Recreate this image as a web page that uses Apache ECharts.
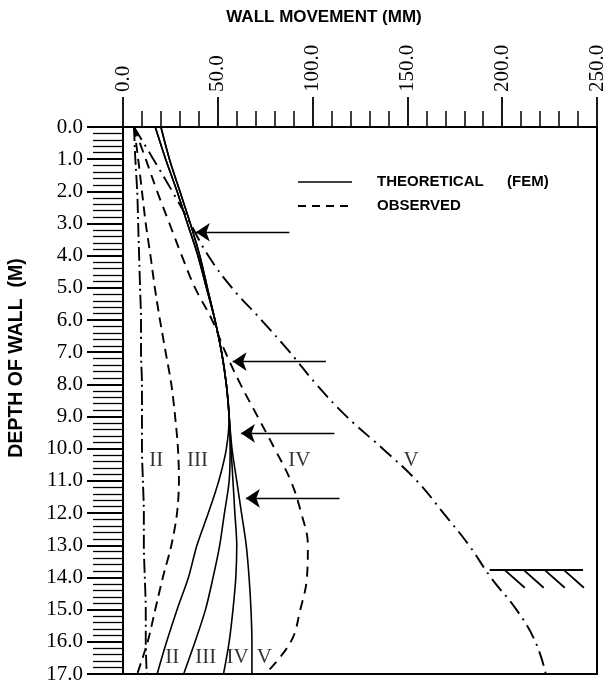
<!DOCTYPE html>
<html><head><meta charset="utf-8">
<script src="https://cdn.jsdelivr.net/npm/echarts/dist/echarts.min.js"></script>
<style>html,body{margin:0;padding:0;background:#fff}#c{width:609px;height:684px}</style>
</head><body><div id="c"></div>
<script>
// Depth of wall (m) at which each curve is sampled
const depths = [0,1,2,3,4,5,6,7,8,9,10,11,12,13,14,15,16,17];
// Theoretical (FEM) wall movement (mm)
const theoII  = [17,22.5,28.5,34,39.5,44,48.5,52,54.5,56,54.5,50.5,45,39,34.5,28.5,23,18];
const theoIII = [17,22.5,28.5,34,39.5,44,48.5,52,54.5,56,56.5,56,53.5,51,47.5,43.5,38,32];
const theoIV  = [20,24.5,30,35.5,40.5,44.5,48.5,52,54.5,56,57,58,59,60,59.5,58,56,53];
const theoV   = [20,24.5,30,35.5,40.5,44.5,48.5,52,54.5,56,57.5,60,62.5,65,66.5,67.5,68,68];
// Observed wall movement (mm)
const obsII  = [5.8,6.5,7.5,8,8.5,9,9.5,9.5,10,10,10,10.5,11,11,11.5,12,12,12.5];
const obsIII = [5.8,8,10,12,14.5,16.8,19.5,22.5,25.5,27.5,29,29.5,28.5,25.5,21,17,13,7.5];
const obsIV  = [5.8,12,18,24.5,31,38,47,54,62,71,80,88.5,94,97.5,97,93.5,88.5,75];
const obsV   = [5.8,16,26,35.5,45,57.5,73,88,102,118,137,155,169,182.5,194,207.5,217.5,223];
// Arrows (depth, tail mm, tip mm)
const arrowDepths = [3.27,7.29,9.52,11.54];
const arrowTails  = [87.7,107,111.5,114.2];
const arrowTips   = [38.4,57.8,62.2,64.8];
// Ground level marker
const groundDepth = 13.77;
const groundFrom = 193.4, groundTo = 242.6;
const hatchStarts = [201.4,211.4,222.5,232.6];
const hatchDx = 10.5, hatchDd = 0.55;
// Curve labels
const labelNames = ['II','III','IV','V','II','III','IV','V'];
const labelX = [17.5,39.3,93,152,26,43.7,60.4,74.5];
const labelD = [10.35,10.35,10.35,10.35,16.5,16.5,16.5,16.5];
// Tick label formatting
const fmt = v => v.toFixed(1);

function pairs(xs){ return xs.map((x,i)=>[x, depths[i]]); }
const solid = {color:'#000', width:1.6, type:'solid'};
function theo(name, xs){ return {name, type:'line', data:pairs(xs), smooth:0.3, symbol:'none', lineStyle:solid, silent:true, z:3}; }
function obs(name, xs, dash, sm){ return {name, type:'line', data:pairs(xs), smooth:sm||0.3, symbol:'none', lineStyle:{color:'#000', width:1.9, type:dash}, silent:true, z:3}; }

const chart = echarts.init(document.getElementById('c'), null, {renderer:'canvas'});
const serif = 'Liberation Serif';
chart.setOption({
  animation:false,
  backgroundColor:'#fff',
  grid:{left:123, right:12, top:127, bottom:10, containLabel:false, outerBoundsMode:'none', show:true, borderColor:'#000', borderWidth:2},
  xAxis:{type:'value', position:'top', min:0, max:250, interval:50,
    axisLine:{show:true, onZero:false, lineStyle:{color:'#000', width:2}},
    axisTick:{show:true, length:30, lineStyle:{color:'#000', width:1.8}},
    minorTick:{show:true, splitNumber:5, length:16, lineStyle:{color:'#000', width:1.5}},
    splitLine:{show:false}, minorSplitLine:{show:false},
    axisLabel:{rotate:-90, margin:35, fontFamily:serif, fontSize:21, color:'#000', formatter:fmt}},
  yAxis:{type:'value', inverse:true, min:0, max:17, interval:1,
    axisLine:{show:true, onZero:false, lineStyle:{color:'#000', width:2}},
    axisTick:{show:true, length:36, lineStyle:{color:'#000', width:1.8}},
    minorTick:{show:true, splitNumber:5, length:30, lineStyle:{color:'#000', width:1.3}},
    splitLine:{show:false}, minorSplitLine:{show:false},
    axisLabel:{margin:40, fontFamily:serif, fontSize:21, color:'#000', formatter:fmt}},
  series:[
    theo('Theo II', theoII), theo('Theo III', theoIII), theo('Theo IV', theoIV), theo('Theo V', theoV),
    obs('Obs II', obsII, [14,4,2,4]), obs('Obs III', obsIII, [10,6]), obs('Obs IV', obsIV, [10,7], 0.4), obs('Obs V', obsV, [15,6,2,6], 0.45),
    {type:'lines', coordinateSystem:'cartesian2d', silent:true, symbol:['none','arrow'], symbolSize:[11,14],
     lineStyle:{color:'#000', width:1.3, opacity:1},
     data: arrowDepths.map((d,i)=>({coords:[[arrowTails[i],d],[arrowTips[i],d]]}))},
    {type:'lines', coordinateSystem:'cartesian2d', silent:true, symbol:['none','none'],
     lineStyle:{color:'#000', width:1.8, opacity:1},
     data: [{coords:[[groundFrom,groundDepth],[groundTo,groundDepth]]}].concat(
       hatchStarts.map(h=>({coords:[[h,groundDepth],[h+hatchDx,groundDepth+hatchDd]]})))},
    {type:'scatter', symbolSize:0, silent:true,
     data: labelNames.map((n,i)=>({name:n, value:[labelX[i], labelD[i]]})),
     label:{show:true, position:'inside', formatter:p=>p.name, fontFamily:serif, fontSize:21, color:'#000'}}
  ],
  graphic:[
    {type:'text', x:324, y:17, style:{text:'WALL MOVEMENT (MM)', font:'bold 17px "Liberation Sans"', fill:'#000', textAlign:'center', textVerticalAlign:'middle'}},
    {type:'text', x:17, y:358, rotation:Math.PI/2, style:{text:'DEPTH OF WALL  (M)', font:'bold 19.5px "Liberation Sans"', fill:'#000', textAlign:'center', textVerticalAlign:'middle'}},
    {type:'line', shape:{x1:298,y1:182,x2:352,y2:182}, style:{stroke:'#000', lineWidth:1.5}},
    {type:'line', shape:{x1:298,y1:206,x2:352,y2:206}, style:{stroke:'#000', lineWidth:2, lineDash:[8,6]}},
    {type:'text', x:377, y:182, style:{text:'THEORETICAL', font:'bold 15px "Liberation Sans"', fill:'#000', textAlign:'left', textVerticalAlign:'middle'}},
    {type:'text', x:507, y:182, style:{text:'(FEM)', font:'bold 15px "Liberation Sans"', fill:'#000', textAlign:'left', textVerticalAlign:'middle'}},
    {type:'text', x:377, y:206, style:{text:'OBSERVED', font:'bold 15px "Liberation Sans"', fill:'#000', textAlign:'left', textVerticalAlign:'middle'}}
  ]
});
</script></body></html>
